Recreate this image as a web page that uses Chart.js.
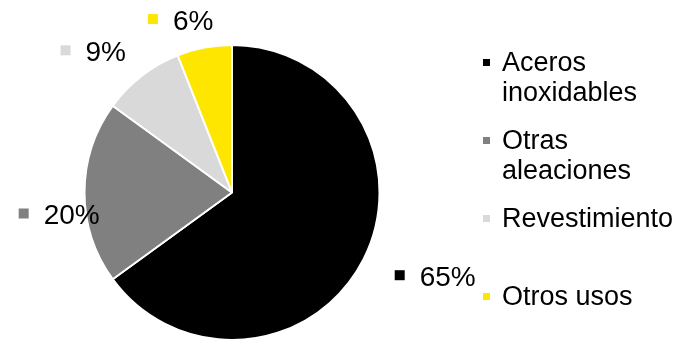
<!DOCTYPE html>
<html>
<head>
<meta charset="utf-8">
<style>
  body { margin: 0; background: #fff; }
  canvas { display: block; }
</style>
</head>
<body>
<canvas id="myChart" width="696" height="341"></canvas>
<script src="https://cdn.jsdelivr.net/npm/chart.js"></script>
<script>
    const categories = [['Aceros', 'inoxidables'], ['Otras', 'aleaciones'], ['Revestimiento'], ['Otros usos']];
    const values = [65, 20, 9, 6];
    const colors = ['#000000', '#808080', '#d9d9d9', '#ffe600'];
    // small nudges so labels sit where the original put them
    const labelNudge = [[35, -2], [16, 22], [-23, 8], [-16, 13]];

    const FONT = '"Liberation Sans", Arial, sans-serif';

    const labelsPlugin = {
        id: 'pieLabels',
        afterDraw(chart) {
            const ctx = chart.ctx;
            const arcs = chart.getDatasetMeta(0).data;
            ctx.save();
            ctx.textBaseline = 'middle';
            ctx.font = '28px ' + FONT;
            arcs.forEach((arc, i) => {
                const mid = (arc.startAngle + arc.endAngle) / 2;
                const r = arc.outerRadius * 1.28;
                const cx = arc.x + Math.cos(mid) * r + labelNudge[i][0];
                const cy = arc.y + Math.sin(mid) * r + labelNudge[i][1];
                const txt = values[i] + '%';
                const w = 10 + 15 + ctx.measureText(txt).width;
                const left = cx - w / 2;
                ctx.fillStyle = colors[i];
                ctx.fillRect(left, cy - 6, 10, 10);
                ctx.fillStyle = '#000';
                ctx.textAlign = 'left';
                ctx.fillText(txt, left + 25, cy + 2);
            });

            // legend on the right
            ctx.font = '27px ' + FONT;
            categories.forEach((lines, i) => {
                const y = 63 + i * 78;
                ctx.fillStyle = colors[i];
                ctx.fillRect(483, y - 4, 7, 7);
                ctx.fillStyle = '#000';
                lines.forEach((ln, j) => {
                    ctx.fillText(ln, 502, y + j * 30 + 1);
                });
            });
            ctx.restore();
        }
    };

    const ctx = document.getElementById('myChart').getContext('2d');
    const myChart = new Chart(ctx, {
        type: 'pie',
        data: {
            labels: categories.map(c => c.join(' ')),
            datasets: [{
                data: values,
                backgroundColor: colors,
                borderColor: '#ffffff',
                borderWidth: 2
            }]
        },
        options: {
            responsive: false,
            animation: false,
            layout: {
                padding: { left: 83, right: 315, top: 44, bottom: 0 }
            },
            plugins: {
                legend: { display: false },
                tooltip: { enabled: false }
            }
        },
        plugins: [labelsPlugin]
    });
</script>
</body>
</html>
